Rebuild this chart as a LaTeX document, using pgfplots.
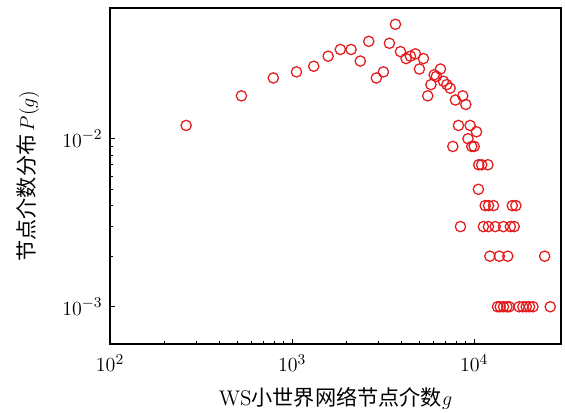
\documentclass[border=0pt]{standalone}
\usepackage{pgfplots}
\pgfplotsset{compat=1.18}
\usepackage{fontspec}
\newfontfamily\cjk{Noto Sans CJK SC}
\definecolor{markred}{RGB}{228,26,28}

\begin{document}
\begin{tikzpicture}
\begin{axis}[
  name=ax,
  xmode=log, ymode=log,
  scale only axis,
  width=270.6pt, height=201.6pt,
  xmin=100, xmax=30000,
  ymin=6e-4, ymax=6e-2,
  xtick={100,1000,10000},
  ytick={0.001,0.01},
  xtick pos=bottom, ytick pos=left,
  tick align=inside,
  major tick length=3pt,
  minor tick length=1.7pt,
  axis line style={line width=0.8pt},
  every tick/.style={black, line width=0.6pt},
  tick label style={font=\fontsize{12.7}{15}\selectfont},
  label style={font=\fontsize{12.7}{15}\selectfont},
  xticklabel style={yshift=-3pt},
  yticklabel style={xshift=-1pt},
  xlabel={WS{\cjk 小世界网络节点介数}$g$},
  ylabel={{\cjk 节点介数分布}\,$P(g)$},
  xlabel style={yshift=-2.5pt},
  ylabel style={yshift=7pt},
]
\addplot[only marks, mark=o, mark size=3.1pt, mark options={line width=0.75pt, draw=markred}, color=markred]
coordinates {
  (262,0.012) (527,0.018) (789,0.023) (1057,0.025) (1315,0.027)
  (1578,0.031) (1841,0.034) (2109,0.034) (2370,0.029) (2637,0.038)
  (2904,0.023) (3174,0.025) (3425,0.037) (3697,0.048) (3939,0.033)
  (4230,0.030) (4467,0.031) (4760,0.032) (5004,0.026) (5265,0.030)
  (5560,0.018) (5790,0.021) (6030,0.024) (6200,0.0235) (6530,0.026)
  (6780,0.022) (7080,0.021) (7380,0.020) (7890,0.017) (8660,0.018)
  (9000,0.016) (8200,0.012) (9500,0.012) (10300,0.011) (9250,0.010)
  (7640,0.009) (9700,0.009) (10000,0.009)
  (10600,0.007) (11000,0.007) (11900,0.007)
  (10550,0.005)
  (11500,0.004) (12000,0.004) (12770,0.004) (16200,0.004) (16950,0.004)
  (8410,0.003) (11240,0.003) (11980,0.003) (13050,0.003) (14490,0.003)
  (15800,0.003) (16600,0.003)
  (12200,0.002) (13750,0.002) (15300,0.002) (24400,0.002)
  (13430,0.001) (13900,0.001) (14490,0.001) (15130,0.001) (15570,0.001)
  (17660,0.001) (18520,0.001) (19320,0.001) (20140,0.001) (21040,0.001)
  (26180,0.001)
};
\end{axis}
% page frame around the axis and its labels
\pgfresetboundingbox
\path (ax.south west) ++(-66pt,-40.8pt) rectangle ++(339pt,247.2pt);
\end{tikzpicture}
\end{document}
